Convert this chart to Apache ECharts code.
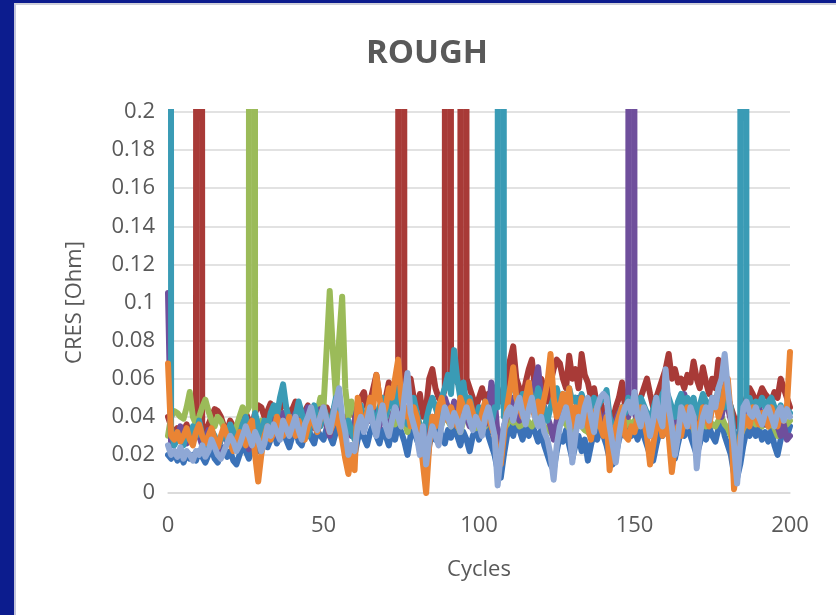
<!DOCTYPE html>
<html><head><meta charset="utf-8">
<script src="https://cdn.jsdelivr.net/npm/echarts@6/dist/echarts.min.js"></script>
<style>
html,body{margin:0;padding:0;background:#0c1c8e;width:836px;height:615px;overflow:hidden;}
#frame{position:absolute;left:14px;top:3px;width:822px;height:612px;background:#fff;border-left:2px solid #c4c6dc;border-top:2px solid #cfd0da;}
#chart{position:absolute;left:0;top:0;width:822px;height:612px;}
</style></head><body>
<div id="frame"><div id="chart"></div></div>
<script>
const xTicks = [0, 50, 100, 150, 200];
const yTicks = [0, 0.02, 0.04, 0.06, 0.08, 0.1, 0.12, 0.14, 0.16, 0.18, 0.2];

const blueS = [0.02,0.018,0.022,0.017,0.02,0.016,0.021,0.018,0.02,0.017,
0.022,0.019,0.016,0.02,0.023,0.018,0.016,0.021,0.024,0.019,
0.022,0.017,0.015,0.02,0.025,0.022,0.018,0.024,0.028,0.022,
0.025,0.03,0.024,0.028,0.033,0.026,0.03,0.035,0.028,0.024,
0.03,0.034,0.027,0.025,0.031,0.036,0.029,0.026,0.033,0.03,
0.028,0.034,0.03,0.026,0.032,0.037,0.03,0.022,0.018,0.025,
0.02,0.028,0.034,0.029,0.025,0.032,0.036,0.03,0.026,0.033,
0.03,0.025,0.034,0.028,0.036,0.032,0.027,0.02,0.03,0.034,
0.028,0.024,0.018,0.012,0.025,0.032,0.028,0.035,0.03,0.026,
0.033,0.029,0.035,0.03,0.025,0.032,0.028,0.022,0.03,0.034,
0.028,0.033,0.038,0.03,0.025,0.02,0.012,0.008,0.02,0.03,
0.035,0.03,0.038,0.033,0.028,0.035,0.03,0.036,0.032,0.027,
0.033,0.025,0.02,0.015,0.012,0.022,0.03,0.027,0.033,0.025,
0.018,0.025,0.03,0.022,0.028,0.017,0.025,0.032,0.028,0.035,
0.03,0.025,0.018,0.015,0.02,0.028,0.033,0.03,0.035,0.03,
0.033,0.028,0.035,0.03,0.025,0.02,0.017,0.025,0.032,0.03,
0.035,0.03,0.025,0.018,0.026,0.033,0.03,0.036,0.03,0.025,
0.02,0.026,0.033,0.028,0.035,0.03,0.027,0.034,0.038,0.03,
0.025,0.02,0.01,0.008,0.015,0.025,0.033,0.03,0.036,0.03,
0.034,0.028,0.032,0.027,0.033,0.025,0.02,0.028,0.034,0.03,0.035];

const redS = [0.04,0.035,0.03,0.034,0.03,0.033,0.036,0.03,0.034,0.036,
5,0.035,0.032,0.036,0.04,0.044,0.043,0.04,0.035,0.032,
0.038,0.035,0.03,0.036,0.04,0.042,0.038,0.035,0.042,0.046,
0.045,0.04,0.043,0.047,0.042,0.038,0.044,0.048,0.045,0.04,
0.044,0.048,0.045,0.04,0.043,0.046,0.042,0.038,0.044,0.047,
0.042,0.045,0.04,0.043,0.047,0.044,0.04,0.036,0.042,0.045,
0.04,0.044,0.05,0.053,0.045,0.048,0.055,0.062,0.05,0.045,
0.05,0.058,0.055,0.05,0.052,5,0.05,0.055,0.06,0.05,
0.045,0.052,0.04,0.045,0.06,0.065,0.055,0.05,0.048,0.055,
5,0.06,0.065,0.058,0.058,5,0.06,0.055,0.05,0.045,
0.05,0.055,0.048,0.052,0.045,0.05,0.055,0.048,0.05,0.062,
0.07,0.077,0.06,0.055,0.05,0.058,0.065,0.07,0.055,0.05,
0.06,0.055,0.048,0.058,0.065,0.07,0.068,0.06,0.055,0.072,
0.06,0.065,0.055,0.073,0.062,0.058,0.05,0.055,0.045,0.048,
0.042,0.045,0.04,0.038,0.045,0.05,0.058,0.045,0.05,0.048,
0.052,0.045,0.05,0.055,0.06,0.052,0.045,0.05,0.055,0.06,
0.065,0.073,0.06,0.065,0.058,0.06,0.055,0.062,0.058,0.069,
0.06,0.055,0.066,0.058,0.052,0.06,0.055,0.07,0.062,0.055,
0.05,0.045,0.04,0.035,0.04,0.045,0.05,0.055,0.052,0.048,
0.05,0.055,0.052,0.05,0.048,0.053,0.05,0.06,0.055,0.05,0.045];

const greenS = [0.03,0.04,0.043,0.042,0.04,0.039,0.045,0.053,0.04,0.036,
0.04,0.045,0.049,0.043,0.038,0.035,0.04,0.038,0.034,0.03,
0.033,0.03,0.035,0.04,0.045,0.042,0.045,5,0.04,0.035,
0.038,0.035,0.03,0.036,0.04,0.035,0.038,0.042,0.04,0.035,
0.04,0.038,0.042,0.036,0.04,0.044,0.04,0.045,0.042,0.05,
0.045,0.075,0.106,0.075,0.05,0.08,0.103,0.055,0.04,0.048,
0.042,0.038,0.04,0.035,0.042,0.038,0.04,0.036,0.042,0.045,
0.04,0.038,0.042,0.036,0.04,0.035,0.038,0.032,0.04,0.045,
0.04,0.036,0.03,0.025,0.032,0.038,0.035,0.04,0.036,0.042,
0.038,0.035,0.04,0.036,0.032,0.038,0.042,0.036,0.04,0.034,
0.036,0.034,0.035,0.04,0.036,0.034,0.03,0.03,0.034,0.036,
0.04,0.037,0.038,0.035,0.036,0.04,0.037,0.035,0.038,0.04,
0.037,0.035,0.033,0.032,0.03,0.034,0.036,0.038,0.036,0.034,
0.032,0.034,0.036,0.035,0.033,0.032,0.03,0.034,0.036,0.038,
0.036,0.034,0.028,0.022,0.03,0.034,0.037,0.035,0.038,0.036,
0.038,0.035,0.038,0.036,0.034,0.032,0.031,0.034,0.037,0.036,
0.038,0.036,0.034,0.03,0.034,0.037,0.035,0.038,0.036,0.034,
0.028,0.033,0.036,0.035,0.038,0.036,0.035,0.038,0.04,0.036,
0.034,0.03,0.026,0.025,0.03,0.034,0.037,0.036,0.038,0.036,
0.038,0.035,0.037,0.035,0.038,0.034,0.03,0.034,0.037,0.036,0.038];

const purpleS = [0.105,0.025,0.03,0.028,0.035,0.03,0.026,0.032,0.028,0.033,
0.03,0.025,0.028,0.033,0.03,0.026,0.022,0.028,0.032,0.027,
0.03,0.026,0.024,0.028,0.032,0.027,0.023,0.03,0.035,0.03,
0.034,0.03,0.036,0.04,0.035,0.03,0.038,0.042,0.036,0.032,
0.038,0.042,0.036,0.032,0.04,0.045,0.038,0.034,0.04,0.044,
0.04,0.035,0.03,0.038,0.042,0.036,0.032,0.028,0.034,0.03,
0.038,0.045,0.04,0.036,0.042,0.038,0.045,0.04,0.035,0.042,
0.038,0.032,0.04,0.045,0.05,0.045,0.038,0.042,0.036,0.045,
0.04,0.034,0.03,0.025,0.035,0.04,0.036,0.045,0.04,0.05,
0.045,0.04,0.048,0.042,0.038,0.045,0.04,0.035,0.042,0.038,
0.045,0.04,0.036,0.042,0.058,0.05,0.03,0.025,0.035,0.04,
0.045,0.05,0.042,0.038,0.045,0.05,0.055,0.048,0.058,0.066,
0.05,0.045,0.04,0.035,0.028,0.038,0.045,0.04,0.05,0.045,
0.035,0.042,0.05,0.045,0.04,0.035,0.042,0.038,0.045,0.04,
0.036,0.042,0.035,0.03,0.038,0.042,0.045,0.045,0.04,5,
0.042,0.038,0.045,0.04,0.036,0.03,0.035,0.04,0.045,0.04,
0.05,0.045,0.04,0.035,0.042,0.048,0.052,0.045,0.04,0.045,
0.038,0.042,0.048,0.044,0.04,0.046,0.05,0.045,0.04,0.05,
0.045,0.038,0.03,0.025,0.035,0.042,0.046,0.04,0.044,0.04,
0.045,0.04,0.036,0.042,0.045,0.038,0.035,0.03,0.036,0.028,0.03];

const tealS = [5,0.034,0.025,0.028,0.03,0.025,0.032,0.028,0.035,0.03,
0.038,0.03,0.025,0.028,0.033,0.03,0.024,0.028,0.032,0.028,
0.036,0.032,0.028,0.03,0.036,0.04,0.034,0.03,0.042,0.035,
0.03,0.038,0.034,0.042,0.046,0.04,0.05,0.057,0.045,0.038,
0.032,0.04,0.048,0.042,0.036,0.03,0.038,0.046,0.04,0.035,
0.045,0.04,0.035,0.042,0.05,0.044,0.036,0.03,0.038,0.032,
0.028,0.04,0.046,0.038,0.042,0.048,0.04,0.034,0.045,0.05,
0.04,0.046,0.05,0.042,0.055,0.05,0.04,0.036,0.045,0.05,
0.042,0.035,0.03,0.038,0.045,0.05,0.045,0.04,0.05,0.055,
0.062,0.052,0.075,0.06,0.05,0.058,0.045,0.05,0.042,0.038,
0.045,0.04,0.048,0.042,0.036,0.045,0.045,5,0.04,0.048,
0.055,0.06,0.05,0.045,0.052,0.048,0.056,0.05,0.045,0.055,
0.05,0.044,0.038,0.045,0.05,0.055,0.048,0.052,0.045,0.055,
0.048,0.05,0.044,0.052,0.046,0.04,0.045,0.05,0.044,0.048,
0.05,0.054,0.04,0.035,0.03,0.04,0.045,0.042,0.05,0.045,
0.048,0.044,0.05,0.046,0.042,0.038,0.044,0.05,0.046,0.052,
0.055,0.05,0.045,0.04,0.048,0.052,0.046,0.05,0.045,0.05,
0.04,0.046,0.052,0.048,0.044,0.05,0.046,0.055,0.05,0.045,
0.05,0.045,0.03,0.025,0.03,5,0.045,0.05,0.044,0.048,
0.046,0.05,0.045,0.048,0.05,0.045,0.042,0.046,0.04,0.044,0.042];

const orangeS = [0.068,0.03,0.028,0.032,0.027,0.03,0.034,0.028,0.025,0.032,
0.036,0.03,0.026,0.03,0.034,0.028,0.024,0.03,0.035,0.03,
0.026,0.022,0.028,0.032,0.03,0.025,0.035,0.038,0.02,0.006,
0.02,0.03,0.035,0.028,0.032,0.04,0.036,0.03,0.034,0.04,
0.035,0.03,0.038,0.034,0.028,0.035,0.04,0.036,0.032,0.04,
0.045,0.038,0.032,0.036,0.042,0.035,0.028,0.018,0.01,0.02,
0.012,0.05,0.04,0.035,0.042,0.05,0.045,0.062,0.05,0.04,
0.045,0.055,0.05,0.06,0.07,0.05,0.04,0.045,0.035,0.045,
0.04,0.03,0.015,0.0,0.025,0.04,0.035,0.045,0.05,0.042,
0.038,0.045,0.04,0.035,0.05,0.045,0.04,0.048,0.042,0.038,
0.035,0.042,0.048,0.04,0.035,0.03,0.02,0.015,0.03,0.045,
0.055,0.066,0.05,0.045,0.04,0.05,0.058,0.045,0.04,0.048,
0.042,0.05,0.058,0.073,0.05,0.04,0.045,0.052,0.045,0.055,
0.035,0.045,0.04,0.05,0.045,0.035,0.028,0.04,0.045,0.035,
0.03,0.04,0.012,0.025,0.035,0.04,0.045,0.03,0.028,0.035,
0.032,0.04,0.045,0.038,0.03,0.015,0.025,0.035,0.04,0.03,
0.045,0.03,0.011,0.025,0.035,0.03,0.04,0.045,0.035,0.04,
0.03,0.035,0.045,0.04,0.035,0.045,0.05,0.04,0.045,0.055,
0.06,0.04,0.002,0.015,0.03,0.035,0.04,0.035,0.045,0.04,
0.036,0.042,0.04,0.035,0.045,0.04,0.035,0.042,0.038,0.045,0.074];

const lightS = [0.025,0.02,0.022,0.019,0.024,0.018,0.022,0.02,0.017,0.022,
0.02,0.025,0.019,0.022,0.028,0.024,0.02,0.018,0.022,0.026,
0.03,0.027,0.022,0.025,0.03,0.035,0.03,0.025,0.032,0.028,
0.022,0.026,0.035,0.03,0.036,0.032,0.028,0.038,0.034,0.03,
0.035,0.04,0.033,0.028,0.036,0.04,0.045,0.038,0.033,0.04,
0.045,0.038,0.032,0.04,0.048,0.055,0.04,0.032,0.02,0.025,
0.022,0.035,0.04,0.032,0.038,0.045,0.036,0.03,0.04,0.046,
0.035,0.03,0.038,0.045,0.04,0.035,0.05,0.063,0.042,0.036,
0.03,0.02,0.035,0.015,0.028,0.035,0.03,0.025,0.036,0.045,
0.04,0.035,0.042,0.038,0.032,0.04,0.045,0.038,0.033,0.04,
0.036,0.03,0.04,0.045,0.038,0.03,0.004,0.02,0.035,0.042,
0.045,0.038,0.045,0.05,0.042,0.036,0.044,0.05,0.04,0.035,
0.04,0.032,0.028,0.02,0.007,0.025,0.035,0.04,0.045,0.036,
0.016,0.03,0.04,0.035,0.045,0.05,0.04,0.032,0.045,0.05,
0.052,0.05,0.035,0.025,0.016,0.03,0.04,0.045,0.048,0.042,
0.053,0.04,0.035,0.045,0.04,0.03,0.038,0.05,0.04,0.035,
0.065,0.045,0.035,0.02,0.03,0.045,0.04,0.035,0.045,0.04,
0.013,0.03,0.04,0.045,0.038,0.05,0.045,0.055,0.06,0.073,
0.055,0.04,0.025,0.005,0.025,0.045,0.048,0.042,0.04,0.045,
0.04,0.036,0.042,0.045,0.04,0.035,0.042,0.045,0.038,0.044,0.04];

const seriesNames = ['S1','S2','S3','S4','S5','S6','S7'];
const seriesValues = [blueS, redS, greenS, purpleS, tealS, orangeS, lightS];
const seriesColors = ['#3b72b8','#a83a37','#9bbb59','#6f4f9c','#3a9bb5','#ea8434','#8fa8d5'];

const FONT = 'Open Sans';
const chart = echarts.init(document.getElementById('chart'), null, {renderer:'canvas'});
chart.setOption({
  animation:false,
  backgroundColor:'#ffffff',
  title:{text:'ROUGH', left:'center', top:27, textStyle:{fontFamily:FONT, fontSize:33, fontWeight:'bold', color:'#595959'}},
  grid:{left:152, right:48, top:107, bottom:124, containLabel:false},
  xAxis:{type:'value', min:xTicks[0], max:xTicks[xTicks.length-1], interval:50,
    name:'Cycles', nameLocation:'middle', nameGap:66,
    nameTextStyle:{fontFamily:FONT, fontSize:22, color:'#595959'},
    axisLine:{show:true, onZero:false, lineStyle:{color:'#d9d9d9', width:1.5}},
    axisTick:{show:false}, splitLine:{show:false},
    axisLabel:{fontFamily:FONT, fontSize:22, color:'#595959', margin:22}},
  yAxis:{type:'value', min:yTicks[0], max:yTicks[yTicks.length-1], interval:0.02,
    name:'CRES [Ohm]', nameLocation:'middle', nameGap:82, nameRotate:90,
    nameTextStyle:{fontFamily:FONT, fontSize:22, color:'#595959'},
    axisLine:{show:false}, axisTick:{show:false},
    splitLine:{show:true, lineStyle:{color:'#d9d9d9', width:1.5}},
    axisLabel:{fontFamily:FONT, fontSize:22, color:'#595959', margin:13,
      formatter: v => String(+v.toFixed(2))}},
  series: seriesValues.map((vals, k) => ({
    name: seriesNames[k], type:'line', showSymbol:false, symbol:'none',
    smooth:false, clip:true,
    data: vals.map((v, i) => [i, v]),
    lineStyle:{color:seriesColors[k], width:6, cap:'round', join:'round'},
    itemStyle:{color:seriesColors[k]},
    z: 2 + k
  }))
});
</script>
</body></html>
